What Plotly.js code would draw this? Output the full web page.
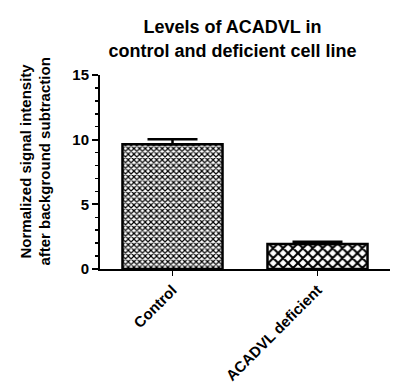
<!DOCTYPE html>
<html>
<head>
<meta charset="utf-8">
<script src="https://cdn.plot.ly/plotly-3.0.1.min.js"></script>
<style>html,body{margin:0;padding:0;background:#fff;}#chart{width:400px;height:389px;}</style>
</head>
<body>
<div id="chart"></div>
<script>
const categories = ["Control", "ACADVL deficient"];
const values = [9.65, 1.93];
const errorsUp = [0.38, 0.17];
const yTicks = [0, 5, 10, 15];
const patternShapes = ["x", "x"];
const patternSizes = [4, 7];

const FONT = "Liberation Sans, Arial, sans-serif";

const trace = {
  type: "bar",
  x: categories,
  y: values,
  width: 0.69,
  marker: {
    color: "white",
    line: {color: "black", width: 2.5},
    pattern: {shape: patternShapes, size: patternSizes, solidity: 0.5, fgcolor: "black", bgcolor: "white", fillmode: "replace"}
  },
  error_y: {type: "data", symmetric: false, array: errorsUp, arrayminus: [0, 0], width: 25, thickness: 2.5, color: "black"},
  hoverinfo: "skip"
};

const layout = {
  width: 400, height: 389,
  margin: {l: 100, r: 10, t: 75, b: 120},
  paper_bgcolor: "white", plot_bgcolor: "white",
  showlegend: false,
  font: {family: FONT, color: "black"},
  title: {
    text: "<b>Levels of ACADVL in<br>control and deficient cell line</b>",
    font: {family: FONT, size: 18, color: "black", lineposition: "none"},
    xref: "paper", x: 0.457, xanchor: "center",
    yref: "container", y: 0.914, yanchor: "middle"
  },
  xaxis: {
    type: "category", range: [-0.5, 1.5],
    showline: true, linecolor: "black", linewidth: 1.5,
    ticks: "outside", ticklen: 5, tickwidth: 1.5, tickcolor: "black",
    tickangle: -45, showgrid: false, zeroline: false,
    tickfont: {family: FONT, size: 15, color: "black", weight: "bold"}
  },
  yaxis: {
    range: [0, 15], tickvals: yTicks, ticktext: yTicks.map(String),
    showline: true, linecolor: "black", linewidth: 2,
    ticks: "outside", ticklen: 6, tickwidth: 2, tickcolor: "black",
    minor: {dtick: 1, ticks: "outside", ticklen: 3, tickwidth: 1.5, tickcolor: "black", showgrid: false},
    showgrid: false, zeroline: false,
    tickfont: {family: FONT, size: 15, color: "black", weight: "bold"}
  },
  annotations: [{
    text: "<b>Normalized signal intensity<br>after background subtraction</b>",
    xref: "paper", yref: "paper", x: -0.224, y: 0.554,
    xanchor: "center", yanchor: "middle", textangle: -90, showarrow: false,
    font: {family: FONT, size: 15, color: "black"}
  }]
};

Plotly.newPlot("chart", [trace], layout, {displayModeBar: false, staticPlot: true});
</script>
</body>
</html>
